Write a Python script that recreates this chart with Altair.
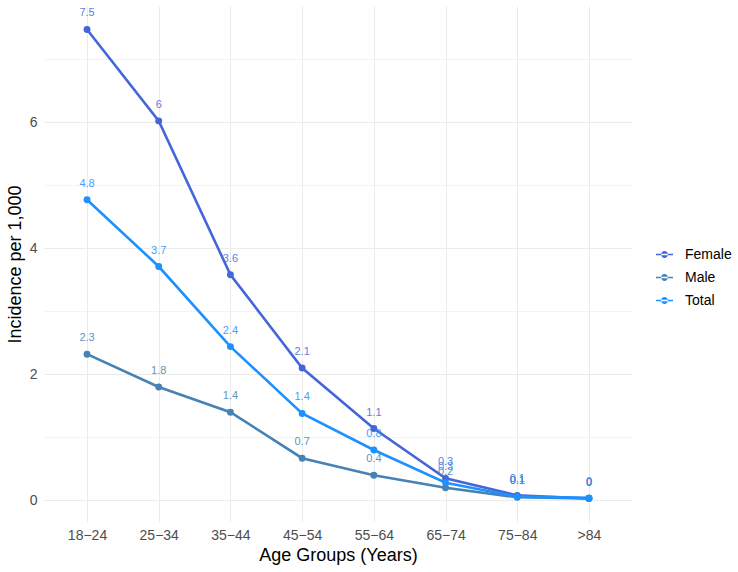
import altair as alt
import pandas as pd

ages = ["18-24", "25-34", "35-44", "45-54", "55-64", "65-74", "75-84", ">84"]
female = [7.47, 6.02, 3.58, 2.10, 1.14, 0.35, 0.08, 0.03]
male = [2.32, 1.80, 1.40, 0.67, 0.40, 0.20, 0.05, 0.03]
total = [4.77, 3.71, 2.44, 1.38, 0.80, 0.28, 0.06, 0.04]
series = ["Female", "Male", "Total"]
colors = ["#4566D8", "#4682B4", "#1E90FF"]

rows = []
for name, vals in zip(series, [female, male, total]):
    for a, v in zip(ages, vals):
        rows.append({"age": a, "value": v, "group": name, "label": f"{round(v, 1):g}"})
df = pd.DataFrame(rows)

FONT = "Liberation Sans"
legend_path = ("M-1,-0.08H1V0.08H-1Z "
               "M-0.4,0A0.4,0.4 0 1,0 0.4,0A0.4,0.4 0 1,0 -0.4,0Z")

x = alt.X("age:N", sort=ages, title="Age Groups (Years)",
          scale=alt.Scale(type="point", padding=0.6),
          axis=alt.Axis(labelAngle=0, grid=True, gridColor="#EBEBEB", gridWidth=1,
                        ticks=False, domain=False, labelPadding=6, titlePadding=4,
                        labelExpr="replace(datum.label, '-', '\u2212')",
                        labelFontSize=14, labelColor="#4D4D4D", labelFont=FONT,
                        titleFont=FONT, titleFontSize=18, titleFontWeight="normal",
                        titleColor="#000000"))
y = alt.Y("value:Q", title="Incidence per 1,000",
          scale=alt.Scale(domain=[-0.342, 7.842], nice=False, zero=False),
          axis=alt.Axis(values=[0, 1, 2, 3, 4, 5, 6, 7],
                        labelExpr="datum.value % 2 == 0 ? datum.label : ''",
                        grid=True, gridColor="#EBEBEB",
                        gridWidth={"condition": {"test": "datum.value % 2 == 1", "value": 0.6}, "value": 1.1},
                        ticks=False, domain=False, labelPadding=7, titlePadding=5,
                        labelFontSize=14, labelColor="#4D4D4D", labelFont=FONT,
                        titleFont=FONT, titleFontSize=18, titleFontWeight="normal",
                        titleColor="#000000"))
color_scale = alt.Scale(domain=series, range=colors)
legend = alt.Legend(title=None, orient="none", legendX=612, legendY=240, padding=0,
                    symbolType=legend_path, symbolSize=289, symbolStrokeWidth=0,
                    labelFont=FONT, labelFontSize=14, labelColor="#000000",
                    rowPadding=7, labelOffset=12)
color = alt.Color("group:N", scale=color_scale, legend=legend)

base = alt.Chart(df).encode(x=x, y=y, color=color)

lines = base.mark_line(strokeWidth=2.6)
points = base.mark_point(filled=True, size=48, opacity=1)
texts = base.mark_text(dy=-16, fontSize=11, font=FONT, opacity=0.85).encode(text="label:N")

chart = alt.layer(lines, points, texts).properties(
    width=588, height=516,
    autosize=alt.AutoSizeParams(type="none"),
    padding={"left": 44, "top": 6, "right": 106, "bottom": 50},
    background="white",
).configure_view(stroke=None)

chart.save("out.html", embed_options={"renderer": "svg", "actions": False})
